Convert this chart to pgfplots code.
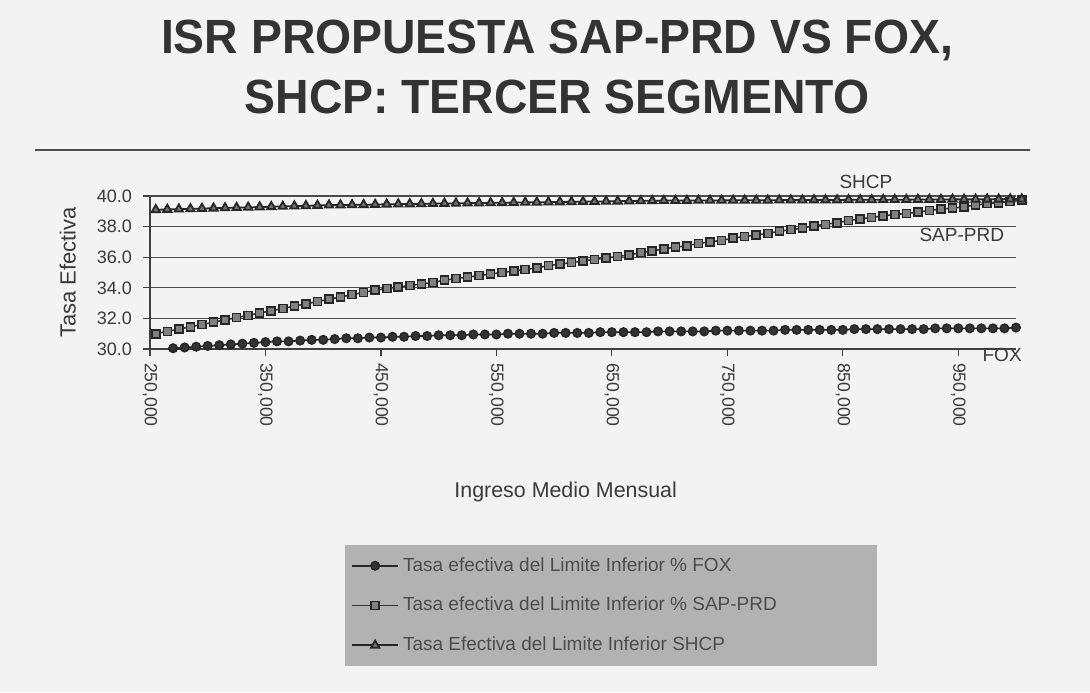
\documentclass[border=0pt]{standalone}
\usepackage{fontspec}
\setmainfont{Liberation Sans}
\usepackage{pgfplots}
\usepackage{pgfplotstable}
\pgfplotsset{compat=1.18}

\pgfplotstableread{
x y
270000 30.05
280000 30.10
290000 30.15
300000 30.20
310000 30.25
320000 30.30
330000 30.35
340000 30.40
350000 30.45
360000 30.50
370000 30.50
380000 30.55
390000 30.60
400000 30.60
410000 30.65
420000 30.70
430000 30.70
440000 30.75
450000 30.75
460000 30.80
470000 30.80
480000 30.85
490000 30.85
500000 30.90
510000 30.90
520000 30.90
530000 30.95
540000 30.95
550000 30.95
560000 31.00
570000 31.00
580000 31.00
590000 31.00
600000 31.05
610000 31.05
620000 31.05
630000 31.05
640000 31.10
650000 31.10
660000 31.10
670000 31.10
680000 31.10
690000 31.15
700000 31.15
710000 31.15
720000 31.15
730000 31.15
740000 31.20
750000 31.20
760000 31.20
770000 31.20
780000 31.20
790000 31.20
800000 31.25
810000 31.25
820000 31.25
830000 31.25
840000 31.25
850000 31.25
860000 31.30
870000 31.30
880000 31.30
890000 31.30
900000 31.30
910000 31.30
920000 31.30
930000 31.35
940000 31.35
950000 31.35
960000 31.35
970000 31.35
980000 31.35
990000 31.35
1000000 31.40
}\fox

\pgfplotstableread{
x y
255000 31.00
265000 31.15
275000 31.30
285000 31.45
295000 31.60
305000 31.75
315000 31.90
325000 32.05
335000 32.20
345000 32.35
355000 32.50
365000 32.65
375000 32.80
385000 32.95
395000 33.10
405000 33.25
415000 33.40
425000 33.55
435000 33.70
445000 33.85
455000 33.95
465000 34.05
475000 34.15
485000 34.25
495000 34.35
505000 34.50
515000 34.60
525000 34.70
535000 34.80
545000 34.90
555000 35.00
565000 35.10
575000 35.20
585000 35.30
595000 35.45
605000 35.55
615000 35.65
625000 35.75
635000 35.85
645000 35.95
655000 36.05
665000 36.15
675000 36.30
685000 36.40
695000 36.55
705000 36.65
715000 36.75
725000 36.90
735000 37.00
745000 37.10
755000 37.25
765000 37.35
775000 37.45
785000 37.55
795000 37.70
805000 37.80
815000 37.90
825000 38.05
835000 38.15
845000 38.25
855000 38.40
865000 38.50
875000 38.60
885000 38.70
895000 38.80
905000 38.85
915000 38.95
925000 39.05
935000 39.15
945000 39.20
955000 39.30
965000 39.40
975000 39.50
985000 39.55
995000 39.65
1005000 39.75
}\sap

\pgfplotstableread{
x y
255000 39.10
265000 39.12
275000 39.14
285000 39.16
295000 39.18
305000 39.20
315000 39.22
325000 39.24
335000 39.26
345000 39.28
355000 39.30
365000 39.32
375000 39.34
385000 39.36
395000 39.38
405000 39.40
415000 39.41
425000 39.42
435000 39.43
445000 39.44
455000 39.46
465000 39.47
475000 39.48
485000 39.49
495000 39.50
505000 39.51
515000 39.52
525000 39.53
535000 39.54
545000 39.55
555000 39.56
565000 39.57
575000 39.58
585000 39.59
595000 39.60
605000 39.61
615000 39.62
625000 39.63
635000 39.64
645000 39.65
655000 39.66
665000 39.67
675000 39.68
685000 39.69
695000 39.70
705000 39.70
715000 39.70
725000 39.71
735000 39.71
745000 39.71
755000 39.72
765000 39.72
775000 39.72
785000 39.72
795000 39.73
805000 39.73
815000 39.73
825000 39.74
835000 39.74
845000 39.74
855000 39.75
865000 39.75
875000 39.75
885000 39.76
895000 39.76
905000 39.76
915000 39.77
925000 39.77
935000 39.77
945000 39.78
955000 39.78
965000 39.78
975000 39.79
985000 39.79
995000 39.80
1005000 39.80
}\shcp

\definecolor{bg}{HTML}{F3F3F3}
\definecolor{txt}{HTML}{3A3A3A}

\begin{document}
\begin{tikzpicture}
\fill[bg] (0,0) rectangle (545pt,346pt);
\useasboundingbox (0,0) rectangle (545pt,346pt);
\node[font=\fontsize{24}{28}\selectfont\bfseries, text=black!80, xscale=0.965] at (278.5pt,326pt) {ISR PROPUESTA SAP-PRD VS FOX,};
\node[font=\fontsize{24}{28}\selectfont\bfseries, text=black!80, xscale=0.965] at (278.5pt,297.5pt) {SHCP: TERCER SEGMENTO};
\draw[black!70, line width=1pt] (17.5pt,271pt) -- (515pt,271pt);

\begin{axis}[
  at={(75pt,171.5pt)}, anchor=south west,
  scale only axis, width=433pt, height=76.5pt,
  xmin=250000, xmax=1000000, ymin=30, ymax=40,
  clip=false, scaled x ticks=false,
  axis x line=bottom, axis y line=left,
  axis line style={-, black!75, line width=0.7pt},
  tick style={black!75, line width=0.6pt},
  tick align=outside, major tick length=3.5pt,
  xtick={250000,350000,450000,550000,650000,750000,850000,950000},
  xticklabels={{250,000},{350,000},{450,000},{550,000},{650,000},{750,000},{850,000},{950,000}},
  xticklabel style={rotate=-90, anchor=west, font=\fontsize{8.8}{10}\selectfont, text=txt},
  ytick={30,32,34,36,38,40},
  yticklabels={30.0,32.0,34.0,36.0,38.0,40.0},
  yticklabel style={font=\fontsize{9}{10}\selectfont, text=txt, xshift=-2pt},
  ymajorgrids, grid style={black!70, line width=0.6pt},
  ylabel={Tasa Efectiva},
  ylabel style={at={(axis description cs:-0.095,0.5)}, anchor=center, font=\fontsize{11}{12}\selectfont, text=txt},
  xlabel={Ingreso Medio Mensual},
  xlabel style={at={(axis description cs:0.48,-0.935)}, anchor=center, font=\fontsize{10.7}{12}\selectfont, text=txt},
  legend style={at={(0.225,-1.281)}, anchor=north west, fill=black!30, draw=none,
    font=\fontsize{9.5}{11}\selectfont, text=black!70, row sep=7.5pt,
    inner xsep=3pt, inner ysep=4pt},
  legend cell align=left,
  legend image code/.code={\draw[mark repeat=2,mark phase=2] plot coordinates {(0pt,0pt)(11.5pt,0pt)(23pt,0pt)};},
]
\addplot[black!85, line width=0.8pt, mark=*, mark size=2.1pt, mark options={fill=black!80, draw=black!85}] table[x=x,y=y] {\fox};
\addlegendentry{\makebox[232pt][l]{Tasa efectiva del Limite Inferior \% FOX}}
\addplot[black!80, line width=0.8pt, mark=square*, mark size=2pt, mark options={fill=black!50, draw=black!85}] table[x=x,y=y] {\sap};
\addlegendentry{Tasa efectiva del Limite Inferior \% SAP-PRD}
\addplot[black!85, line width=0.9pt, mark=triangle*, mark size=2.4pt, mark options={fill=black!55, draw=black!85}] table[x=x,y=y] {\shcp};
\addlegendentry{Tasa Efectiva del Limite Inferior SHCP}

\node[font=\fontsize{9.5}{11}\selectfont, text=txt] at (axis cs:870000,40.9) {SHCP};
\node[font=\fontsize{9.5}{11}\selectfont, text=txt] at (axis cs:953000,37.45) {SAP-PRD};
\node[font=\fontsize{9.5}{11}\selectfont, text=txt] at (axis cs:988000,29.6) {FOX};
\end{axis}
\end{tikzpicture}
\end{document}
